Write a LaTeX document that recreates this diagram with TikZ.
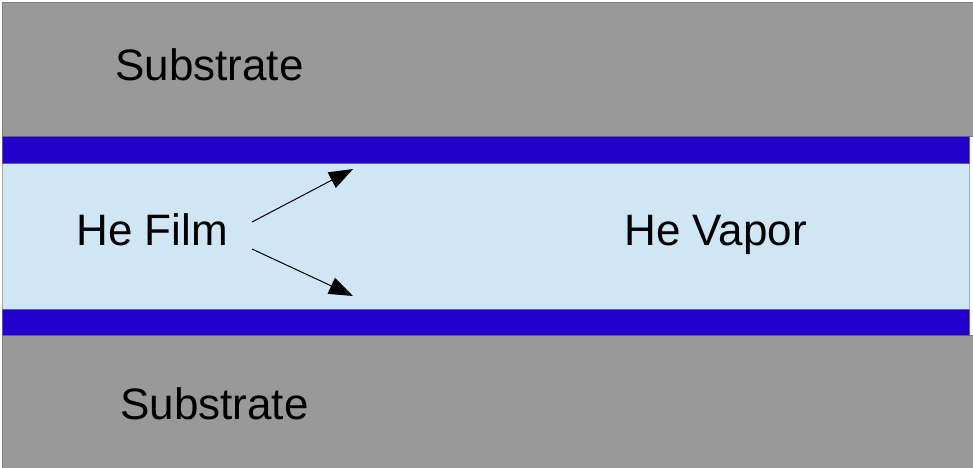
\documentclass[tikz,border=0pt]{standalone}
\usepackage{fontspec}
\setmainfont{Liberation Sans}
\usetikzlibrary{arrows.meta}
\definecolor{subgray}{HTML}{999999}
\definecolor{edgegray}{HTML}{7F7F7F}
\definecolor{bandblue}{HTML}{2200CC}
\definecolor{bandedge}{HTML}{5C5C9C}
\definecolor{filmblue}{HTML}{CFE6F4}
\definecolor{filmedge}{HTML}{A0A8B0}
\tikzset{
  substrate/.style={fill=subgray, draw=edgegray, line width=0.75pt},
  band/.style={fill=bandblue, draw=bandedge, line width=0.75pt},
  film/.style={fill=filmblue, draw=filmedge, line width=0.75pt},
  label/.style={anchor=base west, inner sep=0pt, font=\fontsize{33pt}{38pt}\selectfont},
  ray/.style={line width=0.75pt, -{Triangle[length=18pt,width=13pt]}}
}
\begin{document}
\begin{tikzpicture}[x=0.75pt,y=-0.75pt]
\useasboundingbox (0,0) rectangle (973,467);
\fill[white] (0,0) rectangle (973,467);
\draw[substrate] (2,3) rectangle (975,136);
\draw[substrate] (2,335) rectangle (975,469);
\draw[film] (2,163) rectangle (969,309);
\draw[band] (2,136) rectangle (969,163);
\draw[band] (2,309) rectangle (969,335);
\node[label] (subtop) at (115,80) {Substrate};
\node[label] (subbot) at (120,419) {Substrate};
\node[label] (film) at (76,245) {He Film};
\node[label] (vapor) at (624,245) {He Vapor};
\coordinate (s1) at (252,222);
\coordinate (t1) at (353,169);
\coordinate (s2) at (252,249);
\coordinate (t2) at (353,296);
\draw[ray] (s1) -- (t1);
\draw[ray] (s2) -- (t2);
\end{tikzpicture}
\end{document}
